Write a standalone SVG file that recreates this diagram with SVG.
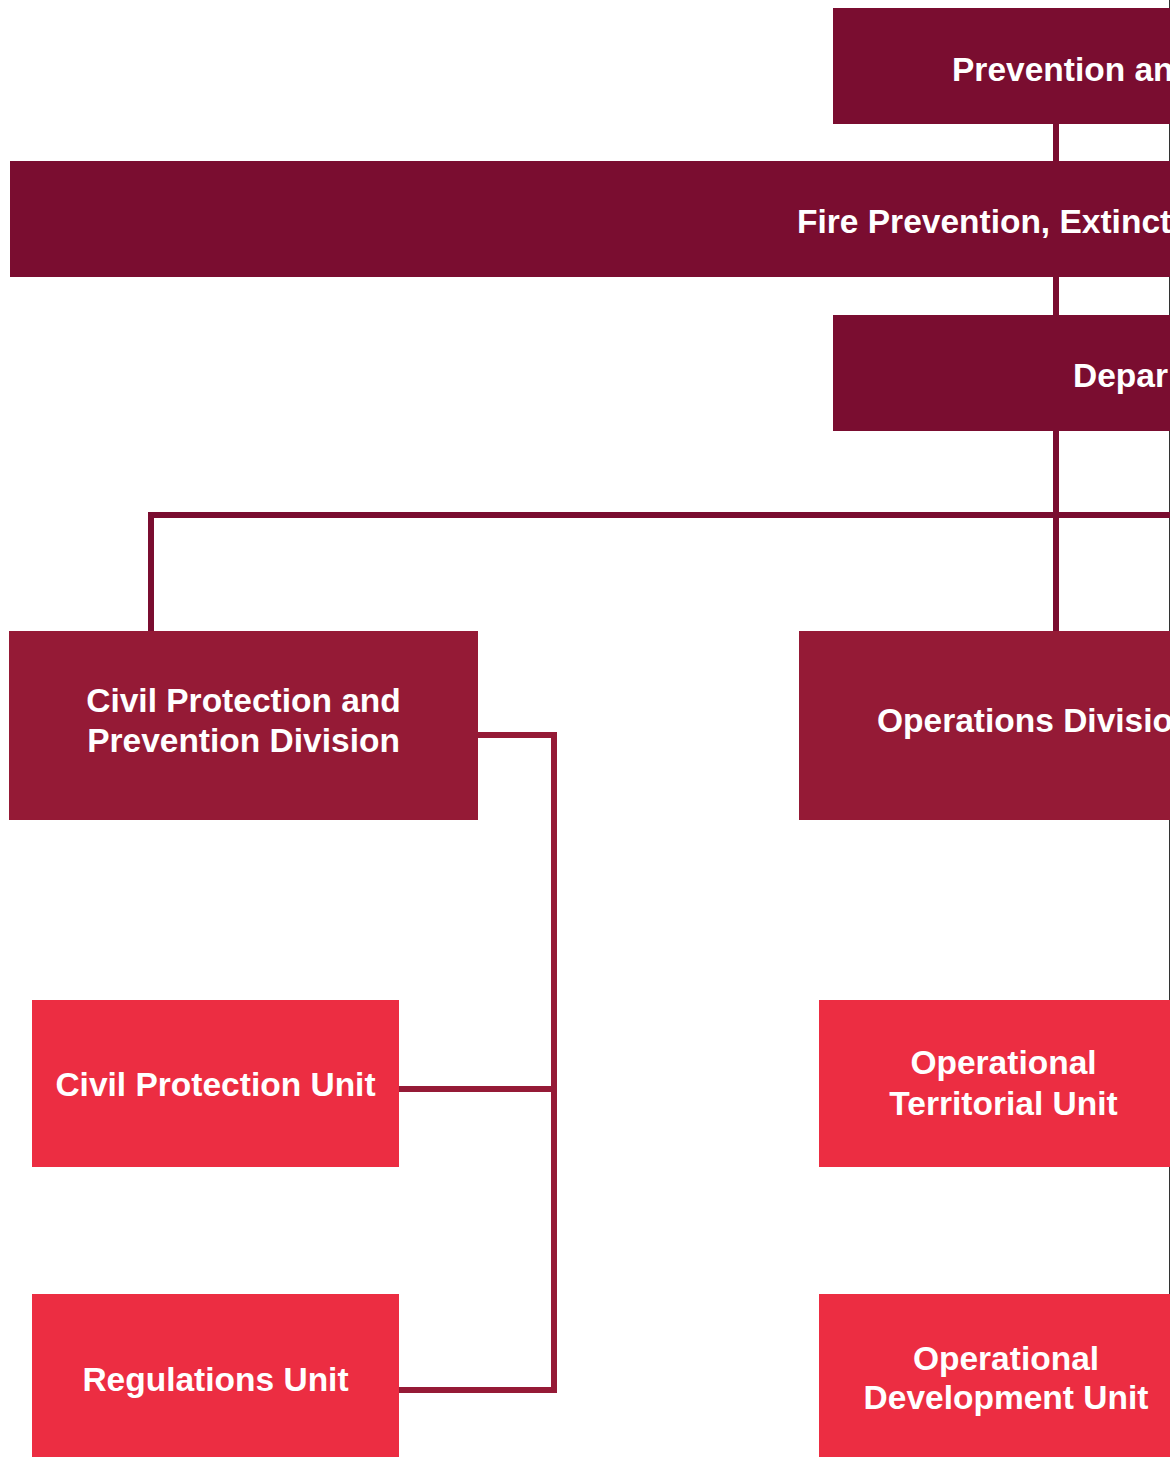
<svg xmlns="http://www.w3.org/2000/svg" width="1170" height="1457" viewBox="0 0 1170 1457">
<style>
.lvl1{fill:#7a0d30}
.lvl2{fill:#951a36}
.lvl3{fill:#ec2d42}
.t{font-family:"Liberation Sans",Arial,sans-serif;font-weight:bold;font-size:33.5px;fill:#ffffff}
.c{text-anchor:middle}
.cd{fill:none;stroke:#7a0d30;stroke-width:6;stroke-linejoin:miter}
.cm{fill:none;stroke:#951a36;stroke-width:6;stroke-linejoin:miter}
</style>
<rect x="0" y="0" width="1170" height="1457" fill="#ffffff"/>
<line x1="1169.5" y1="0" x2="1169.5" y2="1294" stroke="#333333" stroke-width="1"/>
<g id="connectors">
<path class="cd" d="M1056 124 V161"/>
<path class="cd" d="M1056 277 V315"/>
<path class="cd" d="M1056 431 V631"/>
<path class="cd" d="M151 631 V515 H1170"/>
<path class="cm" d="M478 735 H554 V1390 H399"/>
<path class="cm" d="M399 1089 H554"/>
</g>
<g id="prevention">
<rect class="lvl1" x="833" y="8" width="337" height="116"/>
<text class="t" x="952" y="81">Prevention an</text>
</g>
<g id="fire-prevention">
<rect class="lvl1" x="10" y="161" width="1160" height="116"/>
<text class="t" x="797" y="233">Fire Prevention, Extinct</text>
</g>
<g id="department">
<rect class="lvl1" x="833" y="315" width="337" height="116"/>
<text class="t" x="1073" y="387">Depar</text>
</g>
<g id="civil-protection-division">
<rect class="lvl2" x="9" y="631" width="469" height="189"/>
<text class="t c" x="243.5" y="712">Civil Protection and</text>
<text class="t c" x="243.5" y="752">Prevention Division</text>
</g>
<g id="operations-division">
<rect class="lvl2" x="799" y="631" width="371" height="189"/>
<text class="t" x="877" y="732">Operations Divisio</text>
</g>
<g id="civil-protection-unit">
<rect class="lvl3" x="32" y="1000" width="367" height="167"/>
<text class="t c" x="215.5" y="1096">Civil Protection Unit</text>
</g>
<g id="regulations-unit">
<rect class="lvl3" x="32" y="1294" width="367" height="163"/>
<text class="t c" x="215.5" y="1391">Regulations Unit</text>
</g>
<g id="operational-territorial-unit">
<rect class="lvl3" x="819" y="1000" width="351" height="167"/>
<text class="t c" x="1003.5" y="1074">Operational</text>
<text class="t c" x="1003.5" y="1115">Territorial Unit</text>
</g>
<g id="operational-development-unit">
<rect class="lvl3" x="819" y="1294" width="351" height="163"/>
<text class="t c" x="1006" y="1370">Operational</text>
<text class="t c" x="1006" y="1409">Development Unit</text>
</g>
</svg>
